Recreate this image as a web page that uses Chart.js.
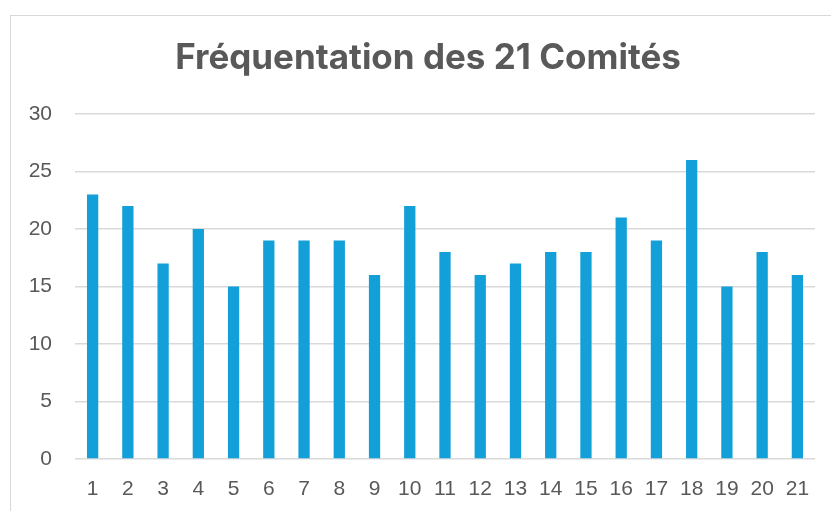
<!DOCTYPE html>
<html>
<head>
<meta charset="utf-8">
<script src="https://cdn.jsdelivr.net/npm/chart.js@4"></script>
<style>
  html, body { margin: 0; padding: 0; background: #fff; overflow: hidden; width: 831px; height: 511px; }
  #frame { position: absolute; left: 10px; top: 15px; width: 900px; height: 600px; border: 1.5px solid #d9d9d9; }
  #wrap { position: absolute; left: 0; top: 0; width: 857px; height: 511px; }
</style>
</head>
<body>
<div id="frame"></div>
<div id="wrap"><canvas id="c"></canvas></div>
<script>
// Fréquentation des 21 Comités
const comites = ["1","2","3","4","5","6","7","8","9","10","11","12","13","14","15","16","17","18","19","20","21"];
const frequentation = [23, 22, 17, 20, 15, 19, 19, 19, 16, 22, 18, 16, 17, 18, 18, 21, 19, 26, 15, 18, 16];
const yTicks = [0, 5, 10, 15, 20, 25, 30];

const GREY = "#595959";
const GRID = "#d9d9d9";
const TICK_FONT = { family: "'Liberation Sans', Arial, sans-serif", size: 21 };

// the title sits centred on the whole frame, a bit right of the canvas centre
const shiftTitle = {
  id: "shiftTitle",
  afterLayout: (chart) => { if (chart.titleBlock) chart.titleBlock.left = 41; },
};

new Chart(document.getElementById("c"), {
  type: "bar",
  plugins: [shiftTitle],
  data: {
    labels: comites,
    datasets: [{
      data: frequentation,
      backgroundColor: "#139fd7",
      categoryPercentage: 1,
      barPercentage: 0.32,
    }],
  },
  options: {
    responsive: true, maintainAspectRatio: false, animation: false,
    layout: { padding: { top: 0, right: 42, bottom: 0, left: 0 } },
    plugins: {
      legend: { display: false },
      tooltip: { enabled: false },
      title: {
        display: true, text: "Fréquentation des 21 Comités", color: GREY,
        font: { family: "Inter, sans-serif", size: 35, weight: "bold" },
        padding: { top: 37, bottom: 35 },
      },
    },
    scales: {
      x: {
        grid: { display: false }, border: { display: false },
        ticks: { color: GREY, font: TICK_FONT, padding: 10 },
        afterFit: (s) => { s.height = 52; },
      },
      y: {
        min: 0, max: 30,
        afterBuildTicks: (s) => { s.ticks = yTicks.map((v) => ({ value: v })); },
        grid: { color: GRID, lineWidth: 1.5, drawTicks: false },
        border: { display: false },
        ticks: { color: GREY, font: TICK_FONT, padding: 23 },
        afterFit: (s) => { s.width = 75; },
      },
    },
  },
});
</script>
</body>
</html>
